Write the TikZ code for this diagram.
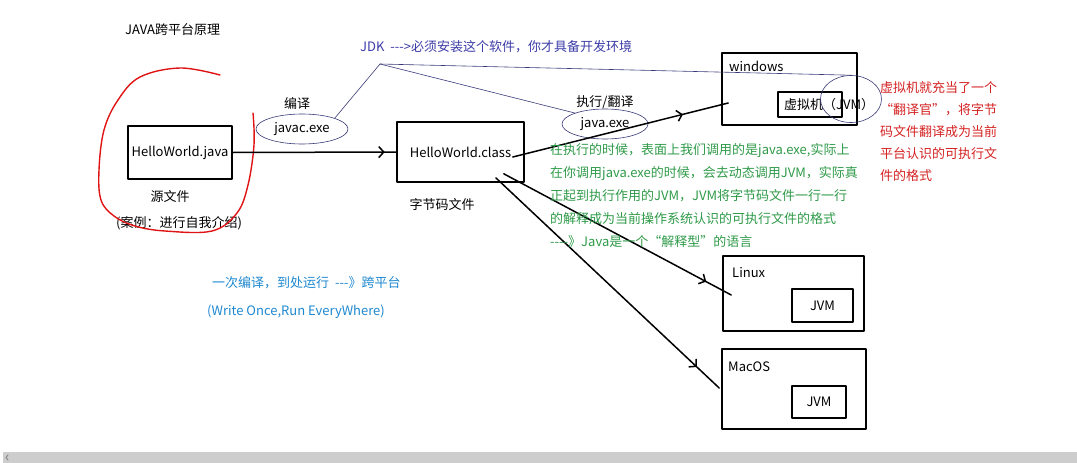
\documentclass[tikz,border=0pt]{standalone}
\usepackage{fontspec}
\setmainfont{Noto Sans CJK SC}[Ligatures=TeXOff]
\usetikzlibrary{shapes.geometric,arrows.meta,decorations.markings}

\definecolor{jdkblue}{HTML}{3C3CA8}
\definecolor{ringblue}{HTML}{3A3A78}
\definecolor{notegreen}{HTML}{2E9A48}
\definecolor{notered}{HTML}{D42222}
\definecolor{skyblue}{HTML}{1E88D0}
\definecolor{loopred}{HTML}{E01414}
\definecolor{barGray}{HTML}{CDCDCD}

\tikzset{
  filebox/.style={draw,line width=1.6pt},
  ring/.style={draw=ringblue,ellipse,line width=0.6pt},
  jdkline/.style={ringblue,line width=0.6pt},
  flow/.style={line width=1.5pt},
  midarrow/.style={postaction={decorate},decoration={markings,
    mark=at position #1 with {\arrow{Straight Barb[length=5pt,width=11pt]}}}},
}

\begin{document}
\begin{tikzpicture}[x=1pt,y=-1pt,line cap=round,line join=round,
    every node/.style={inner sep=0pt},font=\fontsize{13}{15}\selectfont]
\useasboundingbox (0,0) rectangle (1077,463);

% title
\node[anchor=west] (title) at (125,30) {JAVA跨平台原理};

% source file, circled in red
\node[filebox,minimum width=104pt,minimum height=53pt] (src) at (180,152.5) {HelloWorld.java};
\node (srclbl) at (170,197) {源文件};
\node (srcnote) at (179,223) {(案例：进行自我介绍)};
\draw[loopred,line width=1.4pt] plot[smooth,tension=0.6] coordinates {
    (220,75) (180,68) (140,77) (118,100) (104,130) (99,170) (101,200)
    (114,216) (135,226) (165,231) (212,231) (237,213) (248,185) (254,145) (253,113)};

% byte code file
\node[filebox,minimum width=127pt,minimum height=60pt] (cls) at (460.5,152) {HelloWorld.class};
\node (clslbl) at (442,205) {字节码文件};

% compile step
\node[ring,minimum width=92pt,minimum height=30pt] (javac) at (302,129) {javac.exe};
\node (javaclbl) at (297,104) {编译};
\draw[flow,midarrow=0.93] (src.east) -- (cls.west);

% run step
\node[ring,minimum width=86pt,minimum height=30pt] (java) at (605,124) {java.exe};
\node (javalbl) at (605,102) {执行/翻译};

% windows
\node[filebox,minimum width=135pt,minimum height=72pt] (win) at (789.5,89) {};
\node[anchor=west] (winlbl) at (729,66) {windows};
\node[filebox,minimum width=64pt,minimum height=25pt] (winjvm) at (810,104.5) {};
\node[anchor=west] (winjvmlbl) at (784,104.5) {虚拟机（JVM）};
\node[ring,minimum width=61pt,minimum height=47pt] (jvmring) at (851,99) {};

% Linux
\node[filebox,minimum width=141pt,minimum height=75pt] (linux) at (793.5,293.5) {};
\node[anchor=west] (linuxlbl) at (732,273) {Linux};
\node[filebox,minimum width=61pt,minimum height=33pt] (linuxjvm) at (822.5,305.5) {JVM};

% MacOS
\node[filebox,minimum width=144pt,minimum height=80pt] (mac) at (794,389) {};
\node[anchor=west] (maclbl) at (728,367) {MacOS};
\node[filebox,minimum width=54pt,minimum height=32pt] (macjvm) at (819,402) {JVM};

% class file goes to every platform
\draw[flow,midarrow=0.79] ([shift={(-12,5)}]cls.east) -- ([shift={(7,14)}]win.west);
\draw[flow,midarrow=0.89] ([shift={(-21,-9)}]cls.south east) -- ([shift={(9,1.5)}]linux.west);
\draw[flow,midarrow=0.90] ([shift={(-29,-5)}]cls.south east) -- ([shift={(-2,-1)}]mac.west);

% JDK
\node[anchor=west,text=jdkblue] (jdk) at (360,47) {JDK\ \ --->必须安装这个软件，你才具备开发环境};
\coordinate (jdkfoot) at (380,64);
\draw[jdkline] (javac.north east) -- (jdkfoot) -- (java.160);
\draw[jdkline] (jdkfoot) -- (jvmring.north);

% notes
\node[anchor=north west,align=left,text=notegreen,font=\fontsize{13}{23}\selectfont] (runnote) at (550,143.5)
    {在执行的时候，表面上我们调用的是java.exe,实际上\\
     在你调用java.exe的时候，会去动态调用JVM，实际真\\
     正起到执行作用的JVM，JVM将字节码文件一行一行\\
     的解释成为当前操作系统认识的可执行文件的格式\\
     ----》Java是一个“解释型”的语言};
\node[anchor=north west,align=left,text=notered,font=\fontsize{13}{22}\selectfont] (jvmnote) at (880,81.5)
    {虚拟机就充当了一个\\
     “翻译官”，将字节\\
     码文件翻译成为当前\\
     平台认识的可执行文\\
     件的格式};
\node[anchor=west,text=skyblue] (slogan) at (212,283) {一次编译，到处运行\ \ ---》跨平台};
\node[anchor=west,text=skyblue] (sloganen) at (207,312) {(Write Once,Run EveryWhere)};

% scroll bar
\fill[barGray] (3,452) rectangle (1077,463);
\draw[gray,line width=0.8pt] (8,455) -- (6,457.5) -- (8,460);

\end{tikzpicture}
\end{document}
